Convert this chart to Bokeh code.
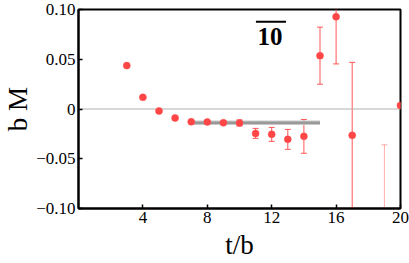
from bokeh.plotting import figure
from bokeh.models import ColumnDataSource, Whisker, TeeHead, FixedTicker, Label, Range1d
from bokeh.embed import file_html
from bokeh.resources import INLINE

# data
t = [3, 4, 5, 6, 7, 8, 9, 10, 11, 12, 13, 14, 15, 16, 17, 19, 20]
bM = [0.0436, 0.0117, -0.002, -0.009, -0.0128, -0.013, -0.0138, -0.014, -0.0245,
      -0.0255, -0.0305, -0.0275, 0.0536, 0.0928, -0.0265, -0.125, 0.0036]
err = [0.0005, 0.0005, 0.0005, 0.0008, 0.001, 0.001, 0.0012, 0.003, 0.005,
       0.007, 0.010, 0.017, 0.0287, 0.0475, 0.0734, 0.089, 0.002]
fit_t = [7, 15]
fit_val = -0.0138
fit_err = 0.0022
xticks = [4, 8, 12, 16, 20]
yticks = [-0.10, -0.05, 0.0, 0.05, 0.10]
ytick_labels = {-0.10: "\u22120.10", -0.05: "\u22120.05", 0.0: "0", 0.05: "0.05", 0.10: "0.10"}
label_text = "10"

RED = "#ff4646"
SERIF = "Liberation Serif"

p = figure(width=409, height=263, output_backend="svg", toolbar_location=None,
           x_range=Range1d(0, 20), y_range=Range1d(-0.10, 0.10),
           min_border_left=78, min_border_right=9, min_border_top=9, min_border_bottom=55)
p.grid.visible = False
p.outline_line_color = "black"
p.outline_line_width = 2
p.background_fill_color = "white"
p.border_fill_color = "white"

# zero line
p.line(x=[0, 20], y=[0, 0], line_color="#b0b0b0", line_width=1)

# fit band
p.varea(x=fit_t, y1=[fit_val - fit_err] * 2, y2=[fit_val + fit_err] * 2,
        fill_color="#c8c8c8", fill_alpha=1.0)
p.line(x=fit_t, y=[fit_val] * 2, line_color="#999999", line_width=2.5)

# error bars
upper = [v + e for v, e in zip(bM, err)]
lower = [v - e for v, e in zip(bM, err)]
alpha = [0.45 if tt == 19 else 0.9 for tt in t]
src = ColumnDataSource(dict(t=t, bM=bM, upper=upper, lower=lower, alpha=alpha))
w = Whisker(base="t", upper="upper", lower="lower", source=src,
            line_color=RED, line_width=1, line_alpha="alpha",
            upper_head=TeeHead(size=6, line_color=RED, line_width=1, line_alpha="alpha"),
            lower_head=TeeHead(size=6, line_color=RED, line_width=1, line_alpha="alpha"))
p.add_layout(w)

p.scatter(x="t", y="bM", source=src, size=7, fill_color=RED, line_color=RED, line_width=0.5)

# label "10" with overline
p.add_layout(Label(x=11.9, y=0.0725, text=label_text, text_font=SERIF, text_font_style="bold",
                   text_font_size="25px", text_align="center", text_baseline="middle",
                   text_color="black"))
p.line(x=[11.02, 12.89], y=[0.0878, 0.0878], line_color="black", line_width=2)

# axes
for ax in (p.xaxis[0], p.yaxis[0]):
    ax.major_tick_in = 4
    ax.major_tick_out = 0
    ax.minor_tick_line_color = None
    ax.axis_line_width = 2
    ax.axis_line_color = "black"
    ax.major_tick_line_width = 1.5
    ax.major_label_text_font = SERIF
    ax.major_label_text_font_size = "17px"
    ax.major_label_text_color = "black"
    ax.axis_label_text_font = SERIF
    ax.axis_label_text_font_size = "27px"
    ax.axis_label_text_font_style = "normal"
    ax.axis_label_text_color = "black"

p.xaxis[0].ticker = FixedTicker(ticks=xticks)
p.yaxis[0].ticker = FixedTicker(ticks=yticks)
p.yaxis[0].major_label_overrides = ytick_labels
p.xaxis[0].axis_label = "t/b"
p.yaxis[0].axis_label = "b M"
p.yaxis[0].axis_label_orientation = "vertical"
p.xaxis[0].major_label_standoff = 3
p.xaxis[0].axis_label_standoff = 4
p.yaxis[0].major_label_standoff = 3
p.yaxis[0].axis_label_standoff = 0

open("out.html", "w").write(file_html(p, INLINE))
